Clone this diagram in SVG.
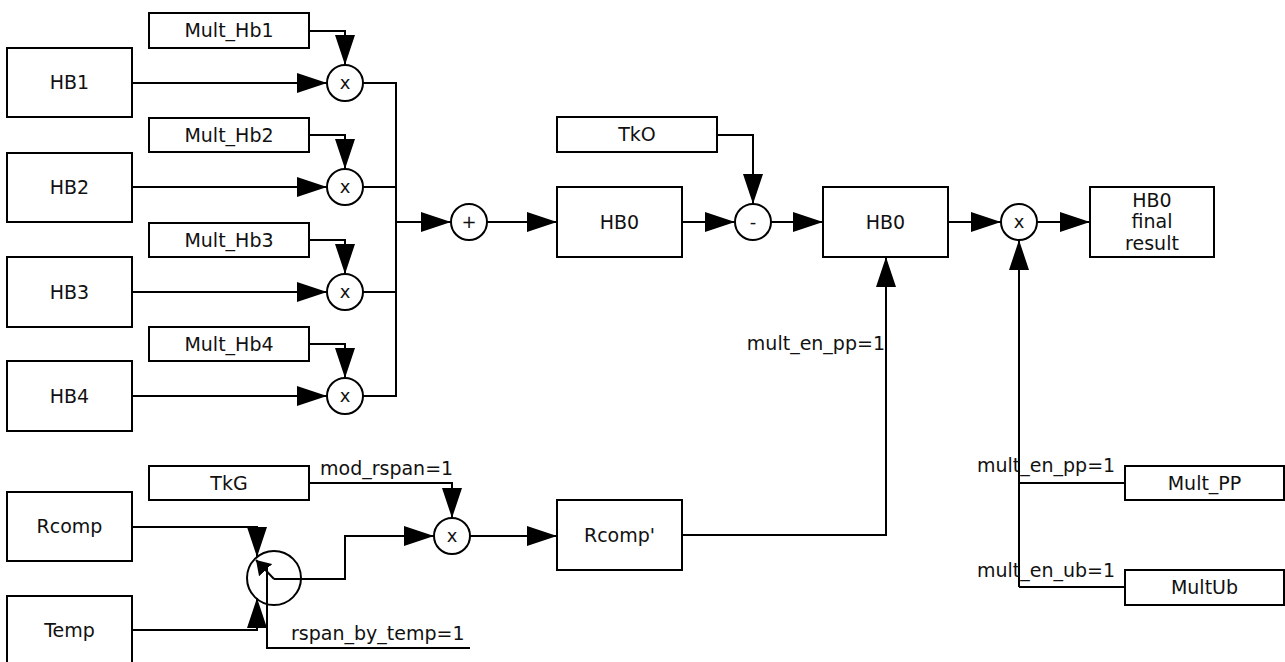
<svg xmlns="http://www.w3.org/2000/svg" width="1285" height="662" viewBox="0 0 1285 662">
<defs>
<style>
.box{fill:#fff;stroke:#000;stroke-width:2}
.op{fill:#fff;stroke:#000;stroke-width:2}
.t{font-family:"DejaVu Sans","Liberation Sans",sans-serif;font-size:19px;fill:#111;text-anchor:middle}
.s{font-family:"DejaVu Sans","Liberation Sans",sans-serif;font-size:18px;fill:#111;text-anchor:middle}
.l{font-family:"DejaVu Sans","Liberation Sans",sans-serif;font-size:19px;fill:#111}
.c{fill:none;stroke:#000;stroke-width:2}
.a{marker-end:url(#arr)}
</style>
<marker id="arr" markerUnits="userSpaceOnUse" markerWidth="30" markerHeight="20" refX="30" refY="10" orient="auto"><path d="M0,0 L30,10 L0,20 z" fill="#000"/></marker>
<marker id="arrs" markerUnits="userSpaceOnUse" markerWidth="14" markerHeight="18" refX="14" refY="9" orient="auto"><path d="M0,0 L14,9 L0,18 z" fill="#000"/></marker>
</defs>
<rect width="1285" height="662" fill="#fff"/>
<g id="connectors">
<path class="c a" d="M309,31 H345 V65"/>
<path class="c a" d="M132,83 H327"/>
<path class="c" d="M363,83 H396"/>
<path class="c a" d="M309,135 H345 V169"/>
<path class="c a" d="M132,187 H327"/>
<path class="c" d="M363,187 H396"/>
<path class="c a" d="M309,240 H345 V274"/>
<path class="c a" d="M132,292 H327"/>
<path class="c" d="M363,292 H396"/>
<path class="c a" d="M309,344 H345 V378"/>
<path class="c a" d="M132,396 H327"/>
<path class="c" d="M363,396 H396"/>
<path class="c" d="M396,82 V397"/>
<path class="c a" d="M396,222 H451"/>
<path class="c a" d="M487,222 H557"/>
<path class="c a" d="M682,222 H735"/>
<path class="c a" d="M717,135 H753 V204"/>
<path class="c a" d="M771,222 H823"/>
<path class="c a" d="M948,222 H1001"/>
<path class="c a" d="M1037,222 H1090"/>
<path class="c a" d="M1019,587 V240"/>
<path class="c" d="M1019,483 H1125"/>
<path class="c" d="M1019,587 H1125"/>
<path class="c a" d="M309,483 H452 V518"/>
<path class="c a" d="M132,527 H257 V557"/>
<path class="c a" d="M132,630 H257 V598"/>
<path class="c a" d="M274,579 H345 V536 H434"/>
<path class="c" d="M267,566 V648 H470"/>
<path class="c a" d="M470,536 H557"/>
<path class="c a" d="M682,535 H886 V257"/>
</g>
<g id="n_mult_hb1"><rect class="box" x="149" y="13" width="160" height="35"/><text class="t" x="229" y="37">Mult_Hb1</text></g>
<g id="n_hb1"><rect class="box" x="7" y="48" width="125" height="69"/><text class="t" x="69.5" y="89">HB1</text></g>
<g id="n_mult_hb2"><rect class="box" x="149" y="118" width="160" height="34"/><text class="t" x="229" y="142">Mult_Hb2</text></g>
<g id="n_hb2"><rect class="box" x="7" y="153" width="125" height="69"/><text class="t" x="69.5" y="194">HB2</text></g>
<g id="n_mult_hb3"><rect class="box" x="149" y="223" width="160" height="34"/><text class="t" x="229" y="247">Mult_Hb3</text></g>
<g id="n_hb3"><rect class="box" x="7" y="257" width="125" height="70"/><text class="t" x="69.5" y="299">HB3</text></g>
<g id="n_mult_hb4"><rect class="box" x="149" y="327" width="160" height="34"/><text class="t" x="229" y="351">Mult_Hb4</text></g>
<g id="n_hb4"><rect class="box" x="7" y="361" width="125" height="70"/><text class="t" x="69.5" y="403">HB4</text></g>
<g id="n_tkg"><rect class="box" x="149" y="466" width="160" height="34"/><text class="t" x="229" y="490">TkG</text></g>
<g id="n_rcomp"><rect class="box" x="7" y="492" width="125" height="69"/><text class="t" x="69.5" y="533">Rcomp</text></g>
<g id="n_temp"><rect class="box" x="7" y="596" width="125" height="70"/><text class="t" x="69.5" y="637">Temp</text></g>
<g id="n_hb0a"><rect class="box" x="557" y="187" width="125" height="70"/><text class="t" x="619.5" y="229">HB0</text></g>
<g id="n_tko"><rect class="box" x="557" y="117" width="160" height="35"/><text class="t" x="637" y="141">TkO</text></g>
<g id="n_hb0b"><rect class="box" x="823" y="187" width="125" height="70"/><text class="t" x="885.5" y="229">HB0</text></g>
<g id="n_final"><rect class="box" x="1090" y="187" width="124" height="70"/><text class="t" x="1152" y="207">HB0</text><text class="t" x="1152" y="228">final</text><text class="t" x="1152" y="250">result</text></g>
<g id="n_rcompp"><rect class="box" x="557" y="500" width="125" height="70"/><text class="t" x="619.5" y="542">Rcomp'</text></g>
<g id="n_multpp"><rect class="box" x="1125" y="466" width="159" height="34"/><text class="t" x="1204.5" y="490">Mult_PP</text></g>
<g id="n_multub"><rect class="box" x="1125" y="570" width="159" height="35"/><text class="t" x="1204.5" y="594">MultUb</text></g>
<g id="op_x1"><circle class="op" cx="345" cy="83" r="18"/><text class="s" x="345" y="89">x</text></g>
<g id="op_x2"><circle class="op" cx="345" cy="187" r="18"/><text class="s" x="345" y="193">x</text></g>
<g id="op_x3"><circle class="op" cx="345" cy="292" r="18"/><text class="s" x="345" y="298">x</text></g>
<g id="op_x4"><circle class="op" cx="345" cy="396" r="18"/><text class="s" x="345" y="402">x</text></g>
<g id="op_plus"><circle class="op" cx="469" cy="222" r="18"/><text class="s" x="469" y="228">+</text></g>
<g id="op_minus"><circle class="op" cx="753" cy="222" r="18"/><text class="s" x="753" y="228">-</text></g>
<g id="op_xf"><circle class="op" cx="1019" cy="222" r="18"/><text class="s" x="1019" y="228">x</text></g>
<g id="op_xr"><circle class="op" cx="452" cy="536" r="18"/><text class="s" x="452" y="542">x</text></g>
<g id="switch"><circle class="c" cx="274" cy="578" r="27"/><path class="c" d="M274,579 L256,560" marker-end="url(#arrs)"/></g>
<g id="labels">
<text class="l" x="320" y="475">mod_rspan=1</text>
<text class="l" x="291" y="640">rspan_by_temp=1</text>
<text class="l" x="885" y="350" text-anchor="end">mult_en_pp=1</text>
<text class="l" x="977" y="472">mult_en_pp=1</text>
<text class="l" x="977" y="577">mult_en_ub=1</text>
</g>
</svg>
